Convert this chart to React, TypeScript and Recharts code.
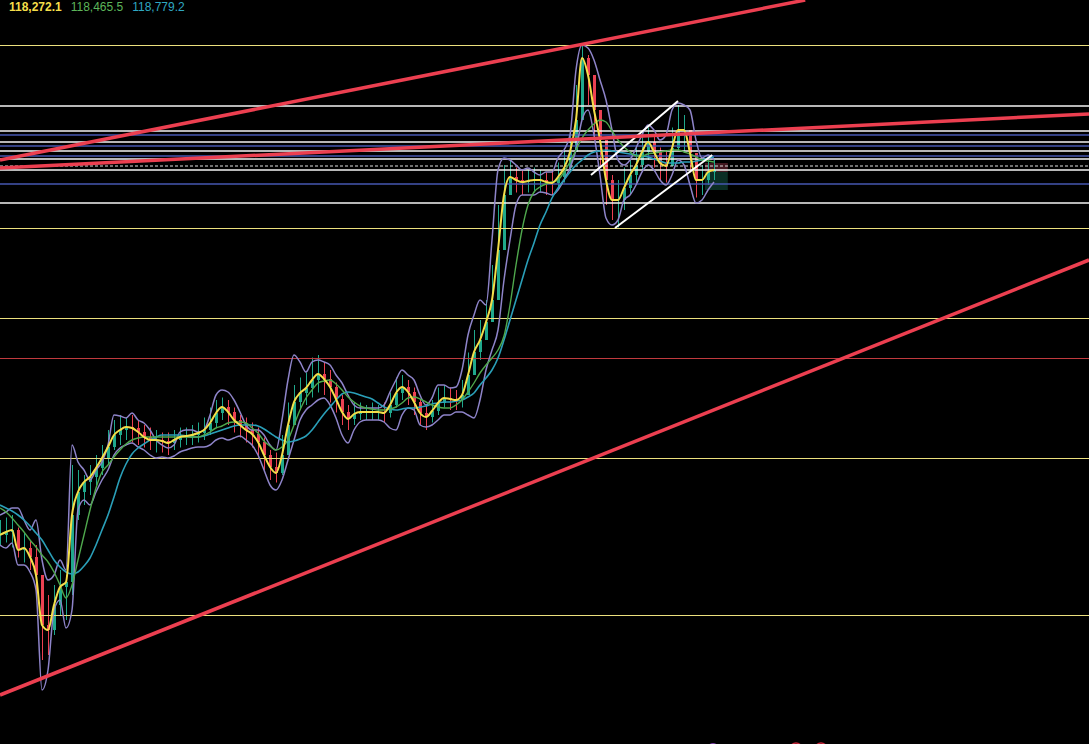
import React from "react";
import {
  ComposedChart,
  Line,
  Bar,
  Cell,
  XAxis,
  YAxis,
  ReferenceLine,
  ReferenceArea,
} from "recharts";

// price path, one value per bar slot (BTC/USDT, hidden axes)
const close = [
  103600, 103720, 103800, 103000, 103080, 102720, 102000, 100000, 99800, 100800,
  101520, 101720, 104400, 105320, 105720, 105920, 106280, 106680, 107120, 107600,
  107800, 107920, 107880, 107720, 107520, 107400, 107400, 107360, 107280, 107400,
  107520, 107560, 107600, 107680, 107800, 108080, 108480, 108720, 108520, 108200,
  108000, 107800, 107640, 107320, 106800, 106320, 106080, 106800, 108000, 108920,
  109280, 109480, 109800, 110040, 109840, 109520, 109040, 108520, 108240, 108440,
  108520, 108520, 108520, 108520, 108480, 108800, 109280, 109520, 109320, 108920,
  108480, 108320, 108560, 108880, 109080, 109040, 109000, 109200, 110000, 110920,
  111400, 112120, 113000, 115000, 117200, 117920, 117800, 117720, 117760, 117800,
  117800, 117720, 117680, 117920, 118280, 118920, 120200, 122680, 122000, 120600,
  119400, 117800, 117000, 117000, 117480, 118000, 118400, 118920, 119320, 118920,
  118480, 118360, 119080, 119800, 119800, 118880, 117800, 117800, 118120, 118200,
];

const high = [
  104200, 104300, 104400, 103900, 103700, 103400, 103200, 102000, 101200, 101600,
  102200, 102000, 106400, 106200, 106000, 106400, 106800, 107200, 107800, 108200,
  108400, 108300, 108400, 108200, 108000, 107900, 107800, 107700, 107700, 107800,
  107900, 107900, 108000, 108100, 108300, 108700, 109000, 109100, 109000, 108700,
  108400, 108300, 108100, 107900, 107500, 107000, 106900, 107600, 108900, 109600,
  109900, 110100, 110700, 110800, 110500, 110200, 109700, 109200, 108800, 108900,
  108900, 108800, 108900, 108800, 108900, 109300, 109900, 110000, 109800, 109500,
  109000, 108800, 109000, 109500, 109600, 109500, 109400, 109800, 110900, 111800,
  112200, 113000, 114400, 116800, 118400, 118600, 118300, 118200, 118200, 118300,
  118200, 118100, 118200, 118500, 119000, 119800, 121600, 123200, 122800, 121800,
  120600, 119400, 118000, 117800, 118300, 118700, 119100, 119800, 119900, 119600,
  119100, 119000, 119900, 120800, 120400, 119700, 118600, 118400, 118600, 118600,
];

const low = [
  103200, 103300, 103100, 102700, 102500, 102200, 101200, 98600, 98800, 99600,
  100400, 100200, 101200, 104200, 104800, 105200, 105600, 106000, 106400, 107000,
  107200, 107400, 107300, 107200, 107100, 107000, 106900, 106900, 106800, 107000,
  107100, 107200, 107200, 107300, 107400, 107600, 107900, 108200, 108000, 107700,
  107500, 107300, 107100, 106700, 106200, 105800, 105700, 106000, 107000, 108200,
  108600, 108800, 109100, 109300, 109200, 108900, 108500, 108000, 107800, 108000,
  108200, 108200, 108200, 108200, 108100, 108300, 108700, 109000, 108800, 108400,
  108000, 107800, 108100, 108400, 108700, 108600, 108600, 108700, 109300, 110200,
  110600, 111400, 112200, 113800, 116000, 117200, 117300, 117200, 117300, 117300,
  117300, 117200, 117200, 117400, 117700, 118200, 119000, 120800, 120800, 119600,
  118400, 116800, 116200, 115900, 116600, 117200, 117700, 118200, 118600, 118300,
  117800, 117700, 118400, 119000, 118900, 118100, 117100, 117200, 117600, 117800,
];

const maFast = [
  104680, 104520, 104280, 104000, 103720, 103400, 103120, 102800, 102520, 102120,
  101600, 101080, 101600, 102600, 103600, 104600, 105480, 106120, 106400, 106720,
  107000, 107240, 107400, 107480, 107520, 107520, 107520, 107520, 107520, 107520,
  107520, 107520, 107520, 107520, 107600, 107720, 107880, 107960, 108080, 108120,
  108120, 108080, 107880, 107680, 107360, 107160, 107000, 107120, 107400, 108000,
  108600, 109080, 109400, 109680, 109760, 109800, 109640, 109400, 109120, 108920,
  108760, 108680, 108640, 108600, 108600, 108640, 108720, 108880, 109080, 109120,
  109040, 108920, 108800, 108720, 108680, 108680, 108800, 109000, 109320, 109680,
  110080, 110400, 110680, 111000, 111560, 112800, 114400, 115800, 116800, 117320,
  117520, 117640, 117720, 117800, 118120, 118520, 119000, 119480, 119800, 120040,
  120200, 120120, 119760, 119400, 119120, 118920, 118760, 118760, 118840, 118880,
  118920, 118960, 119000, 119000, 118920, 118840, 118720, 118600, 118560, 118520,
];

const maSlow = [
  104800, 104680, 104560, 104400, 104200, 103960, 103680, 103400, 103000, 102600,
  102320, 102120, 102040, 102120, 102360, 102680, 103200, 103800, 104400, 105120,
  105880, 106440, 106840, 107080, 107240, 107400, 107520, 107600, 107600, 107600,
  107600, 107560, 107520, 107520, 107560, 107640, 107720, 107800, 107880, 107960,
  108000, 108000, 108000, 107960, 107840, 107680, 107520, 107400, 107320, 107360,
  107440, 107560, 107800, 108120, 108440, 108720, 109000, 109240, 109320, 109280,
  109200, 109120, 109040, 108880, 108720, 108640, 108600, 108640, 108680, 108680,
  108720, 108760, 108840, 108880, 108920, 108920, 108960, 109000, 109120, 109280,
  109600, 109880, 110200, 110680, 111400, 112200, 113000, 113800, 114600, 115280,
  116000, 116520, 117080, 117480, 117800, 118120, 118400, 118600, 118800, 118920,
  118960, 119000, 118960, 118920, 118880, 118840, 118800, 118760, 118720, 118640,
  118560, 118480, 118480, 118480, 118520, 118520, 118560, 118600, 118680, 118720,
];

const bandUpper = [
  104400, 104520, 104680, 104680, 104200, 103800, 104200, 102600, 101800, 102000,
  102600, 102200, 107200, 106520, 106200, 105800, 106200, 106520, 107200, 108400,
  108360, 108280, 108480, 108200, 108080, 107800, 107400, 107200, 107080, 107200,
  107720, 107800, 107800, 107720, 107800, 108400, 109200, 109400, 109320, 109000,
  108520, 108000, 107800, 107800, 107600, 107200, 107000, 108200, 109800, 110800,
  110520, 110120, 110520, 110600, 110520, 110400, 110000, 109680, 109200, 108800,
  108680, 108680, 108680, 108680, 108800, 109320, 109800, 110200, 110000, 109800,
  109200, 108800, 109080, 109600, 109600, 109480, 109520, 110200, 111600, 112400,
  113000, 112800, 115400, 118200, 118680, 118600, 118400, 118200, 118280, 118120,
  118000, 118120, 118120, 118680, 119000, 119600, 122200, 123200, 123080, 122600,
  121800, 121000, 119800, 118600, 118400, 118600, 119080, 119600, 120000, 119800,
  119400, 119600, 120600, 120880, 120800, 120600, 119400, 118680, 118800, 118600,
];

const bandLower = [
  103200, 103080, 103280, 102400, 102400, 102120, 101400, 97400, 98200, 100600,
  101000, 99880, 100600, 104600, 105000, 104800, 105320, 105800, 106200, 106800,
  107080, 107200, 107280, 107120, 107000, 106800, 106680, 106720, 106680, 106760,
  106920, 107000, 107080, 107120, 107120, 107200, 107400, 107480, 107400, 107480,
  107560, 107400, 107200, 106800, 106200, 105600, 105400, 105800, 106600, 107400,
  108200, 108600, 108800, 109000, 109080, 108800, 108280, 107600, 107280, 107800,
  108120, 108200, 108200, 108200, 108120, 107880, 107800, 108400, 108680, 108600,
  108000, 107920, 108000, 108200, 108400, 108400, 108520, 108520, 108400, 108280,
  109000, 110200, 111000, 111800, 113800, 115400, 116800, 117200, 117200, 117200,
  117320, 117280, 117200, 117400, 117800, 118280, 119000, 120200, 120600, 119600,
  118000, 116280, 116000, 116200, 117000, 117200, 117600, 118120, 118400, 118200,
  117800, 117600, 118000, 118600, 118400, 117600, 116880, 117000, 117400, 117720,
];

// horizontal levels
const whiteLevels = [120760, 119760, 119320, 118960, 118640, 118200, 116880];
const dashedLevels = [118360];
const blueLevels = [119600, 119160, 118760, 117640];
const yellowLevels = [123200, 115880, 112280, 106680, 100400];
const redLevels = [110680];

// trend lines [x1, y1, x2, y2] in bar index / price
const trendLines = [
  [0, 118600, 134.2, 125000],
  [0, 118280, 181.5, 120440],
  [0, 97200, 181.5, 114600],
];
const channelLines = [
  [98.5, 118000, 113, 120960],
  [102.5, 115880, 118.7, 118800],
];

const legendValues = ["118,272.1", "118,465.5", "118,779.2"];
const legendColors = ["#f3de4a", "#5db55a", "#2fa8c2"];

const W = 1089;
const H = 744;
const X_DOMAIN = [0, 181.5];

const rows = close.map((c, i) => {
  const open = i === 0 ? c : close[i - 1];
  return {
    i,
    close: c,
    body: [Math.min(open, c), Math.max(open, c)],
    wick: [low[i], high[i]],
    up: c >= open,
    maFast: maFast[i],
    maSlow: maSlow[i],
    bandUpper: bandUpper[i],
    bandLower: bandLower[i],
  };
});

const UP = "#1fa88c";
const DOWN = "#ec4152";

export default function App() {
  return (
    <div
      style={{
        position: "absolute",
        left: 0,
        top: 0,
        width: W,
        height: H,
        background: "#000",
        overflow: "hidden",
      }}
    >
      <ComposedChart
        width={W}
        height={H}
        data={rows}
        margin={{ top: 0, right: 0, bottom: 0, left: 0 }}
      >
        <XAxis xAxisId="a" type="number" dataKey="i" domain={X_DOMAIN} hide allowDataOverflow />
        <XAxis xAxisId="b" type="number" dataKey="i" domain={X_DOMAIN} hide allowDataOverflow />
        <YAxis type="number" domain={[95240, 125000]} hide allowDataOverflow />

        {yellowLevels.map((v) => (
          <ReferenceLine key={"y" + v} xAxisId="a" y={v} stroke="#ece07e" strokeWidth={1} shapeRendering="crispEdges" />
        ))}
        {redLevels.map((v) => (
          <ReferenceLine key={"r" + v} xAxisId="a" y={v} stroke="#c03a3e" strokeWidth={1} shapeRendering="crispEdges" />
        ))}
        {whiteLevels.map((v) => (
          <ReferenceLine key={"w" + v} xAxisId="a" y={v} stroke="#f4f4f4" strokeWidth={1.3} />
        ))}
        {dashedLevels.map((v) => (
          <ReferenceLine key={"d" + v} xAxisId="a" y={v} stroke="#e0e0e0" strokeDasharray="3 2" />
        ))}
        {blueLevels.map((v) => (
          <ReferenceLine key={"b" + v} xAxisId="a" y={v} stroke="#4657b0" strokeWidth={1.3} />
        ))}

        <ReferenceArea xAxisId="a" x1={117.5} x2={121.3} y1={118120} y2={118480} fill="#4a1a22" fillOpacity={0.9} />
        <ReferenceArea xAxisId="a" x1={117.5} x2={121.3} y1={117400} y2={118120} fill="#0c3329" fillOpacity={0.9} />

        <Line xAxisId="a" dataKey="bandUpper" type="monotone" stroke="#8e84c9" strokeWidth={1.5} dot={false} activeDot={false} isAnimationActive={false} />
        <Line xAxisId="a" dataKey="bandLower" type="monotone" stroke="#8e84c9" strokeWidth={1.5} dot={false} activeDot={false} isAnimationActive={false} />
        <Line xAxisId="a" dataKey="maSlow" type="monotone" stroke="#2a9fb8" strokeWidth={1.6} dot={false} activeDot={false} isAnimationActive={false} />
        <Line xAxisId="a" dataKey="maFast" type="monotone" stroke="#4fa84d" strokeWidth={1.4} dot={false} activeDot={false} isAnimationActive={false} />

        <Bar xAxisId="b" dataKey="wick" barSize={1} isAnimationActive={false}>
          {rows.map((r) => (
            <Cell key={r.i} fill={r.up ? UP : DOWN} />
          ))}
        </Bar>
        <Bar xAxisId="a" dataKey="body" barSize={3} isAnimationActive={false}>
          {rows.map((r) => (
            <Cell key={r.i} fill={r.up ? UP : DOWN} />
          ))}
        </Bar>

        <Line xAxisId="a" dataKey="close" type="monotone" stroke="#f3de4a" strokeWidth={2} dot={false} activeDot={false} isAnimationActive={false} />

        {channelLines.map(([x1, y1, x2, y2], k) => (
          <ReferenceLine
            key={"c" + k}
            xAxisId="a"
            segment={[{ x: x1, y: y1 }, { x: x2, y: y2 }]}
            stroke="#ffffff"
            strokeWidth={2}
          />
        ))}
        {trendLines.map(([x1, y1, x2, y2], k) => (
          <ReferenceLine
            key={"t" + k}
            xAxisId="a"
            segment={[{ x: x1, y: y1 }, { x: x2, y: y2 }]}
            stroke="#ec3f50"
            strokeWidth={3.5}
          />
        ))}
      </ComposedChart>

      <div
        style={{
          position: "absolute",
          left: 9,
          top: 1,
          fontFamily: "'Liberation Sans', Arial, sans-serif",
          fontSize: 12,
          lineHeight: "13px",
          whiteSpace: "nowrap",
        }}
      >
        {legendValues.map((v, k) => (
          <span
            key={v}
            style={{ color: legendColors[k], fontWeight: k === 0 ? 700 : 400, marginRight: 9 }}
          >
            {v}
          </span>
        ))}
      </div>

      <svg
        width={W}
        height={H}
        style={{ position: "absolute", left: 0, top: 0, pointerEvents: "none" }}
      >
        <circle cx={713} cy={749} r={6} fill="#7b3fa6" />
        <circle cx={796} cy={749} r={6} fill="none" stroke="#c8283c" strokeWidth={1.5} />
        <circle cx={821} cy={749} r={6} fill="none" stroke="#c8283c" strokeWidth={1.5} />
      </svg>
    </div>
  );
}
